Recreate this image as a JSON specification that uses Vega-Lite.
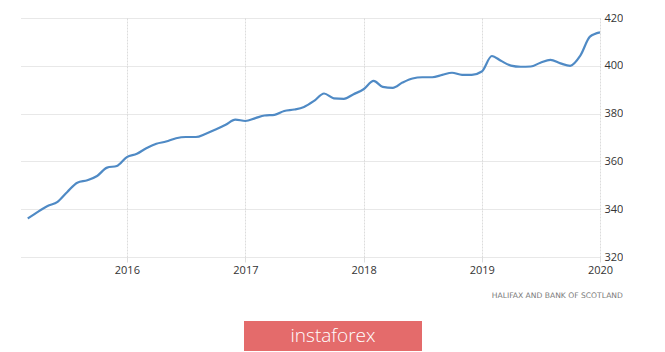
{
  "$schema": "https://vega.github.io/schema/vega-lite/v6.json",
  "padding": {"left": 20, "top": 12, "right": 0, "bottom": 0},
  "background": "white",
  "config": {"view": {"stroke": null}, "font": "Open Sans"},
  "spacing": 21,
  "vconcat": [
    {
      "width": 580,
      "height": 239,
      "title": {"text": "HALIFAX AND BANK OF SCOTLAND", "orient": "bottom", "anchor": "end", "frame": "bounds", "fontSize": 7.6, "fontWeight": "normal", "color": "#7a7a7a", "offset": 17, "font": "DejaVu Sans"},
      "data": {"values": [
        {"date": "2015-03-01", "value": 336.1},
        {"date": "2015-04-01", "value": 338.9},
        {"date": "2015-05-01", "value": 341.3},
        {"date": "2015-06-01", "value": 343.1},
        {"date": "2015-07-01", "value": 347.2},
        {"date": "2015-08-01", "value": 351.1},
        {"date": "2015-09-01", "value": 352.1},
        {"date": "2015-10-01", "value": 353.9},
        {"date": "2015-11-01", "value": 357.4},
        {"date": "2015-12-01", "value": 358.1},
        {"date": "2016-01-01", "value": 361.8},
        {"date": "2016-02-01", "value": 363.2},
        {"date": "2016-03-01", "value": 365.5},
        {"date": "2016-04-01", "value": 367.4},
        {"date": "2016-05-01", "value": 368.3},
        {"date": "2016-06-01", "value": 369.7},
        {"date": "2016-07-01", "value": 370.2},
        {"date": "2016-08-01", "value": 370.2},
        {"date": "2016-09-01", "value": 371.6},
        {"date": "2016-10-01", "value": 373.3},
        {"date": "2016-11-01", "value": 375.3},
        {"date": "2016-12-01", "value": 377.5},
        {"date": "2017-01-01", "value": 376.9},
        {"date": "2017-02-01", "value": 378.1},
        {"date": "2017-03-01", "value": 379.2},
        {"date": "2017-04-01", "value": 379.5},
        {"date": "2017-05-01", "value": 381.1},
        {"date": "2017-06-01", "value": 381.7},
        {"date": "2017-07-01", "value": 382.8},
        {"date": "2017-08-01", "value": 385.3},
        {"date": "2017-09-01", "value": 388.4},
        {"date": "2017-10-01", "value": 386.4},
        {"date": "2017-11-01", "value": 386.2},
        {"date": "2017-12-01", "value": 388.1},
        {"date": "2018-01-01", "value": 390.2},
        {"date": "2018-02-01", "value": 393.7},
        {"date": "2018-03-01", "value": 391.2},
        {"date": "2018-04-01", "value": 390.8},
        {"date": "2018-05-01", "value": 393.0},
        {"date": "2018-06-01", "value": 394.7},
        {"date": "2018-07-01", "value": 395.2},
        {"date": "2018-08-01", "value": 395.2},
        {"date": "2018-09-01", "value": 396.2},
        {"date": "2018-10-01", "value": 397.1},
        {"date": "2018-11-01", "value": 396.2},
        {"date": "2018-12-01", "value": 396.2},
        {"date": "2019-01-01", "value": 397.6},
        {"date": "2019-02-01", "value": 404.1},
        {"date": "2019-03-01", "value": 402.1},
        {"date": "2019-04-01", "value": 400.1},
        {"date": "2019-05-01", "value": 399.6},
        {"date": "2019-06-01", "value": 399.7},
        {"date": "2019-07-01", "value": 401.3},
        {"date": "2019-08-01", "value": 402.5},
        {"date": "2019-09-01", "value": 401.0},
        {"date": "2019-10-01", "value": 400.0},
        {"date": "2019-11-01", "value": 404.2},
        {"date": "2019-12-01", "value": 412.2},
        {"date": "2020-01-01", "value": 414.0}
      ]},
      "mark": {"type": "line", "interpolate": "monotone", "color": "#4f8ac5", "strokeWidth": 2.2},
      "encoding": {
        "x": {
          "field": "date", "type": "temporal", "title": null,
          "scale": {"domain": ["2015-02-05", "2020-01-01"]},
          "axis": {"format": "%Y", "tickCount": {"interval": "year", "step": 1}, "domain": false, "ticks": true, "tickColor": "#dddddd", "tickSize": 5, "labelPadding": 2, "labelFontSize": 11, "labelColor": "#333333", "gridColor": "#dcdcdc", "gridDash": [2, 1], "labelFlush": false}
        },
        "y": {
          "field": "value", "type": "quantitative", "title": null,
          "scale": {"domain": [320, 420], "nice": false, "zero": false},
          "axis": {"orient": "right", "values": [320, 340, 360, 380, 400, 420], "domain": false, "ticks": false, "labelPadding": 4, "labelFontSize": 11, "labelColor": "#333333", "gridColor": "#d0d0d0", "gridDash": [1, 1]}
        }
      }
    },
    {
      "spacing": 20,
      "hconcat": [
        {
          "width": 204,
          "height": 30,
          "data": {"values": [{"label": ""}]},
          "mark": {"type": "text"},
          "encoding": {"text": {"field": "label"}}
        },
        {
          "width": 178,
          "height": 30,
          "view": {"fill": "#e46b6b", "stroke": null},
          "data": {"values": [{"label": "instaforex"}]},
          "mark": {"type": "text", "color": "white", "fontSize": 19, "fontWeight": 300, "font": "Open Sans", "baseline": "middle", "align": "center"},
          "encoding": {"text": {"field": "label"}}
        }
      ]
    }
  ]
}
